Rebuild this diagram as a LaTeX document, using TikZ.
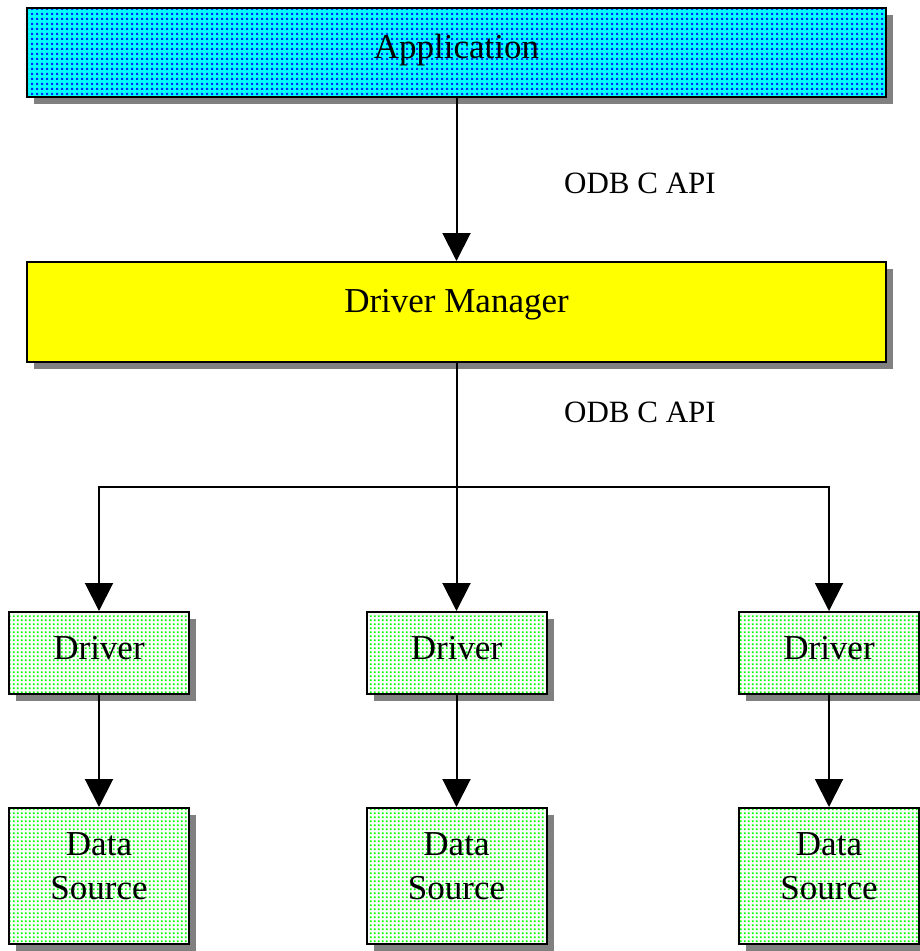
\documentclass[tikz,border=0pt]{standalone}
\usepackage{fontspec}
\setmainfont{Liberation Serif}
\usetikzlibrary{arrows.meta,shadows,patterns.meta}

% dot rasters used as box textures
\tikzdeclarepattern{
  name=greendots, type=uncolored,
  bounding box={(0,0) and (4.3pt,4.3pt)},
  tile size={(4.3pt,4.3pt)},
  code={\pgfpathrectangle{\pgfpoint{1.1pt}{1.1pt}}{\pgfpoint{2pt}{2pt}}\pgfusepath{fill}}
}
\tikzdeclarepattern{
  name=bluedots, type=uncolored,
  bounding box={(0,0) and (5pt,5pt)},
  tile size={(5pt,5pt)},
  code={\pgfpathrectangle{\pgfpoint{1.2pt}{1.2pt}}{\pgfpoint{2.6pt}{2.6pt}}\pgfusepath{fill}}
}

\definecolor{shadowgray}{RGB}{128,128,128}
\definecolor{appcyan}{RGB}{0,255,255}
\definecolor{dotblue}{RGB}{0,40,255}
\definecolor{mgryellow}{RGB}{255,255,0}
\definecolor{dotgreen}{RGB}{0,255,0}

\tikzset{
  box/.style={draw=black, line width=2pt, inner sep=0pt, align=center,
    font=\fontsize{35}{44}\selectfont,
    drop shadow={shadow xshift=7pt, shadow yshift=-7pt, fill=shadowgray, opacity=1}},
  appbox/.style={box, preaction={fill=appcyan}, pattern=bluedots, pattern color=dotblue},
  mgrbox/.style={box, fill=mgryellow},
  drvbox/.style={box, preaction={fill=white}, pattern=greendots, pattern color=dotgreen},
  conn/.style={line width=2pt, -{Triangle[length=28pt,width=28pt]}},
  wire/.style={line width=2pt},
  lbl/.style={font=\fontsize{31}{36}\selectfont, inner sep=0pt}
}

\begin{document}
\begin{tikzpicture}[x=1pt,y=-1pt]
\useasboundingbox (0,0) rectangle (919,951);

% layers
\node[appbox, minimum width=859pt, minimum height=89pt, text depth=12pt] (app) at (456.5,52.5) {Application};
\node[mgrbox, minimum width=859pt, minimum height=100pt, text depth=22pt] (dm) at (456.5,312) {Driver Manager};

% drivers
\node[drvbox, minimum width=180pt, minimum height=82pt, text depth=11pt] (d1) at (99,653) {Driver};
\node[drvbox, minimum width=180pt, minimum height=82pt, text depth=11pt] (d2) at (456.5,653) {Driver};
\node[drvbox, minimum width=180pt, minimum height=82pt, text depth=11pt] (d3) at (829,653) {Driver};

% data sources
\node[drvbox, minimum width=180pt, minimum height=136pt, text depth=20pt] (s1) at (99,876) {Data\\Source};
\node[drvbox, minimum width=180pt, minimum height=136pt, text depth=20pt] (s2) at (456.5,876) {Data\\Source};
\node[drvbox, minimum width=180pt, minimum height=136pt, text depth=20pt] (s3) at (829,876) {Data\\Source};

% interface labels
\node[lbl] (api1) at (640,183) {ODB C API};
\node[lbl] (api2) at (640,412) {ODB C API};

% connectors
\draw[conn] (app.south) -- (dm.north);
\coordinate (split) at (456.5,487);
\draw[wire] (dm.south) -- (split);
\draw[conn] (split) -| (d1.north);
\draw[conn] (split) -- (d2.north);
\draw[conn] (split) -| (d3.north);
\draw[conn] (d1.south) -- (s1.north);
\draw[conn] (d2.south) -- (s2.north);
\draw[conn] (d3.south) -- (s3.north);
\end{tikzpicture}
\end{document}
